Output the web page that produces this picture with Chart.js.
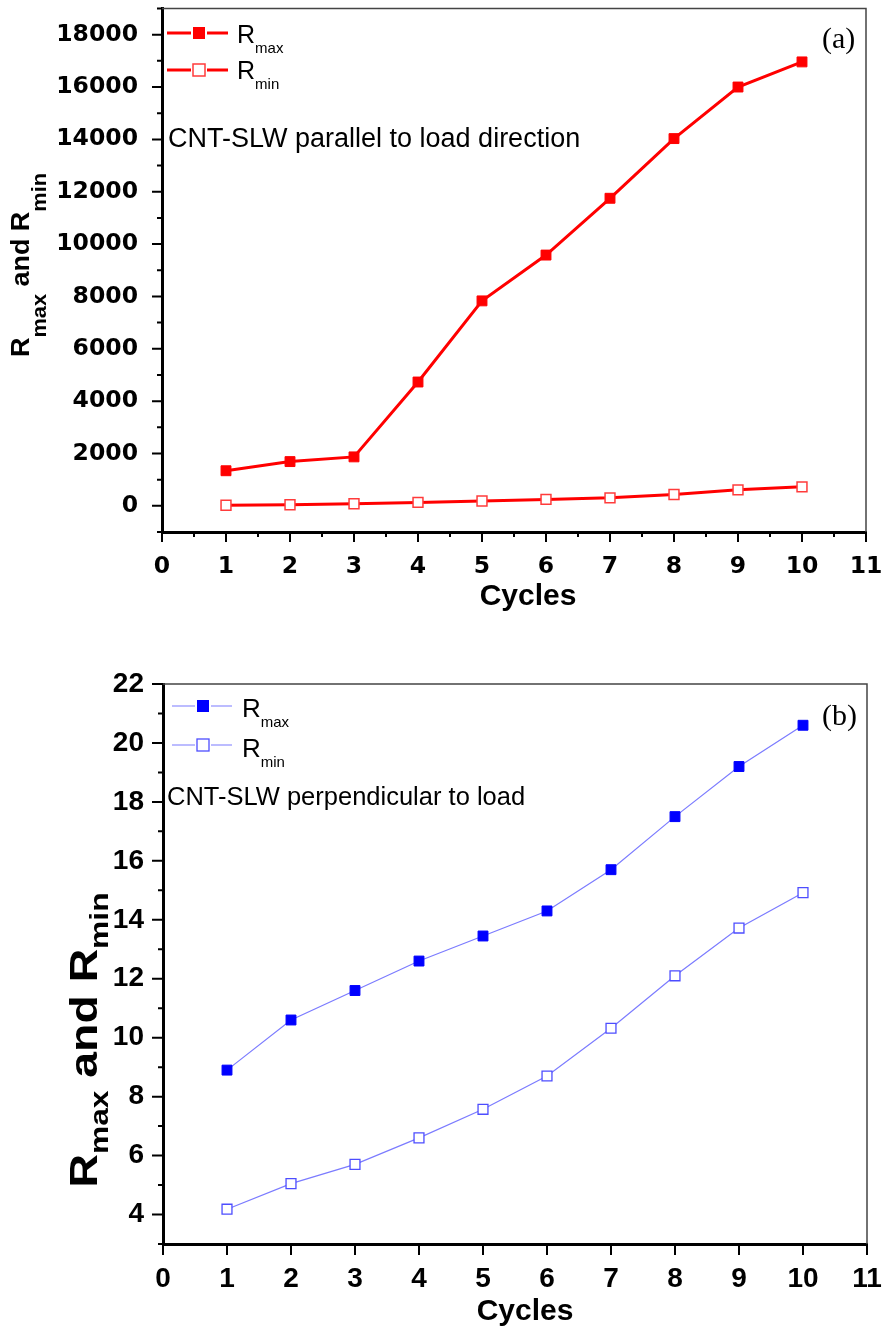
<!DOCTYPE html>
<html>
<head>
<meta charset="utf-8">
<script src="https://cdn.jsdelivr.net/npm/chart.js@4.4.1/dist/chart.umd.min.js"></script>
<style>
  body { margin: 0; background: #fff; }
  .panel { position: absolute; left: 0; }
</style>
</head>
<body>
<div class="panel" style="top:0"><canvas id="chartA" width="885" height="640"></canvas></div>
<div class="panel" style="top:650px"><canvas id="chartB" width="885" height="681"></canvas></div>
<script>
// cycles on the x axis
const cycles = [1, 2, 3, 4, 5, 6, 7, 8, 9, 10];

// (a) CNT-SLW parallel to load direction
const parallelMax = [1340, 1690, 1870, 4730, 7830, 9580, 11750, 14030, 16000, 16960];
const parallelMin = [20, 40, 80, 130, 185, 245, 305, 430, 610, 725];

// (b) CNT-SLW perpendicular to load
const perpMax = [8.9, 10.6, 11.6, 12.6, 13.45, 14.3, 15.7, 17.5, 19.2, 20.6];
const perpMin = [4.18, 5.05, 5.7, 6.6, 7.57, 8.7, 10.32, 12.1, 13.72, 14.92];

const SANS = "'Liberation Sans', Arial, sans-serif";
const SERIF = "'Liberation Serif', 'Times New Roman', serif";

function pts(ys) {
  return cycles.map((c, i) => ({x: c, y: ys[i]}));
}

function richWidth(ctx, parts) {
  let w = 0;
  for (const p of parts) {
    ctx.font = p.font;
    w += ctx.measureText(p.text).width;
  }
  return w;
}

function drawRich(ctx, parts, x, y, opt) {
  ctx.save();
  ctx.translate(x, y);
  if (opt.rotate) ctx.rotate(-Math.PI / 2);
  const w = richWidth(ctx, parts);
  ctx.scale(opt.len ? opt.len / w : 1, 1);
  let cx = opt.align === 'center' ? -w / 2 : 0;
  ctx.textAlign = 'left';
  ctx.textBaseline = 'alphabetic';
  ctx.fillStyle = '#000';
  for (const p of parts) {
    ctx.font = p.font;
    ctx.fillText(p.text, cx, p.dy || 0);
    cx += ctx.measureText(p.text).width;
  }
  ctx.restore();
}

function rTitle(main, sub, dy) {
  return [
    {text: 'R', font: main}, {text: 'max', font: sub, dy},
    {text: ' and ', font: main},
    {text: 'R', font: main}, {text: 'min', font: sub, dy}
  ];
}

function isMult(v, step) {
  const r = v / step;
  return Math.abs(r - Math.round(r)) < 1e-6;
}

// frame, minor/major tick marks, legend and labels
const decor = {
  id: 'decor',
  afterDraw(chart, args, o) {
    const ctx = chart.ctx;
    const a = chart.chartArea;
    const xs = chart.scales.x, ys = chart.scales.y;
    ctx.save();

    ctx.strokeStyle = '#444';
    ctx.lineWidth = 1.5;
    ctx.beginPath();
    ctx.moveTo(a.left, a.top);
    ctx.lineTo(a.right, a.top);
    ctx.lineTo(a.right, a.bottom);
    ctx.stroke();

    ctx.strokeStyle = '#000';
    ctx.lineWidth = 2;
    ctx.beginPath();
    const xStep = o.xMinor || o.xMajor;
    for (let v = xs.min; v <= xs.max + 1e-9; v += xStep) {
      const px = xs.getPixelForValue(v);
      const len = isMult(v, o.xMajor) ? o.majorLen : o.minorLen;
      ctx.moveTo(px, a.bottom);
      ctx.lineTo(px, a.bottom + len);
    }
    for (let v = ys.min; v <= ys.max + 1e-9; v += o.yMinor) {
      const py = ys.getPixelForValue(v);
      const len = isMult(v, o.yMajor) ? o.majorLen : o.minorLen;
      ctx.moveTo(a.left, py);
      ctx.lineTo(a.left - len, py);
    }
    ctx.stroke();

    // legend
    const lg = o.legend;
    lg.rows.forEach((row, i) => {
      const ds = chart.data.datasets[i];
      const s = lg.size;
      ctx.strokeStyle = ds.borderColor;
      ctx.lineWidth = ds.borderWidth;
      ctx.beginPath();
      ctx.moveTo(lg.x1, row.y);
      ctx.lineTo(lg.mx - s / 2 - 2, row.y);
      ctx.moveTo(lg.mx + s / 2 + 2, row.y);
      ctx.lineTo(lg.x2, row.y);
      ctx.stroke();
      if (row.open) {
        ctx.fillStyle = '#fff';
        ctx.fillRect(lg.mx - s / 2, row.y - s / 2, s, s);
        ctx.strokeStyle = ds.pointBorderColor;
        ctx.lineWidth = ds.pointBorderWidth;
        ctx.strokeRect(lg.mx - s / 2, row.y - s / 2, s, s);
      } else {
        ctx.fillStyle = ds.pointBackgroundColor;
        ctx.fillRect(lg.mx - s / 2, row.y - s / 2, s, s);
      }
      drawRich(ctx, [
        {text: 'R', font: lg.font},
        {text: row.sub, font: lg.subFont, dy: lg.subDy}
      ], lg.tx, row.base, {});
    });

    o.texts.forEach(t => drawRich(ctx, t.parts, t.x, t.y, t));
    ctx.restore();
  }
};

function axes(c) {
  const zeroPad = s => { s.paddingLeft = s.paddingRight = s.paddingTop = s.paddingBottom = 0; };
  return {
    x: {
      type: 'linear', min: 0, max: 11,
      grid: {display: false, drawTicks: false},
      border: {display: true, color: '#000', width: 3},
      ticks: {
        stepSize: 1, autoSkip: false, maxRotation: 0, color: '#000',
        padding: c.xPad, font: c.tickFont,
        callback: v => String(v)
      },
      afterFit: s => { s.height = c.xHeight; zeroPad(s); }
    },
    y: {
      type: 'linear', min: c.yMin, max: c.yMax,
      grid: {display: false, drawTicks: false},
      border: {display: true, color: '#000', width: 3},
      ticks: {
        stepSize: c.yMinor, autoSkip: false, color: '#000',
        padding: c.yPad, font: c.tickFont,
        callback: v => (isMult(v, c.yMajor) ? String(v) : '')
      },
      afterFit: s => { s.width = c.yWidth; zeroPad(s); }
    }
  };
}

new Chart(document.getElementById('chartA').getContext('2d'), {
  type: 'line',
  data: {
    datasets: [{
      label: 'Rmax',
      data: pts(parallelMax),
      borderColor: '#ff0000', borderWidth: 3,
      pointStyle: 'rect', pointRadius: 7, pointBorderWidth: 1,
      pointBackgroundColor: '#ff0000', pointBorderColor: '#ff0000'
    }, {
      label: 'Rmin',
      data: pts(parallelMin),
      borderColor: '#ff0000', borderWidth: 3,
      pointStyle: 'rect', pointRadius: 7, pointBorderWidth: 1.5,
      pointBackgroundColor: '#ffffff', pointBorderColor: '#ff3b3b'
    }]
  },
  options: {
    responsive: false, animation: false, devicePixelRatio: 1,
    layout: {padding: {top: 7, right: 19, left: 0, bottom: 0}},
    scales: axes({
      yMin: -1000, yMax: 19000, yMajor: 2000, yMinor: 1000,
      yWidth: 162, xHeight: 108, xPad: 21, yPad: 24,
      tickFont: {family: 'DejaVu Sans', weight: 'bold', size: 23.5}
    }),
    plugins: {
      legend: {display: false},
      tooltip: {enabled: false},
      decor: {
        xMajor: 1, xMinor: 0.5, yMajor: 2000, yMinor: 1000,
        majorLen: 10, minorLen: 5,
        legend: {
          x1: 167, x2: 228, mx: 199, size: 12, tx: 237,
          font: '25px ' + SANS, subFont: '15px ' + SANS, subDy: 10,
          rows: [{y: 33, base: 43, sub: 'max'}, {y: 70, base: 79, sub: 'min', open: true}]
        },
        texts: [
          {parts: [{text: 'CNT-SLW parallel to load direction', font: '27px ' + SANS}], x: 168, y: 147},
          {parts: [{text: '(a)', font: '30px ' + SERIF}], x: 822, y: 48},
          {parts: [{text: 'Cycles', font: 'bold 30px ' + SANS}], x: 528, y: 605, align: 'center'},
          {parts: rTitle('bold 26px ' + SANS, 'bold 21px ' + SANS, 17), x: 29, y: 265,
            rotate: true, align: 'center', len: 184}
        ]
      }
    }
  },
  plugins: [decor]
});

new Chart(document.getElementById('chartB').getContext('2d'), {
  type: 'line',
  data: {
    datasets: [{
      label: 'Rmax',
      data: pts(perpMax),
      borderColor: '#7b7bff', borderWidth: 1.2,
      pointStyle: 'rect', pointRadius: 7, pointBorderWidth: 1,
      pointBackgroundColor: '#0000ff', pointBorderColor: '#0000ff'
    }, {
      label: 'Rmin',
      data: pts(perpMin),
      borderColor: '#7b7bff', borderWidth: 1.2,
      pointStyle: 'rect', pointRadius: 7, pointBorderWidth: 1.3,
      pointBackgroundColor: '#ffffff', pointBorderColor: '#4d4dff'
    }]
  },
  options: {
    responsive: false, animation: false, devicePixelRatio: 1,
    layout: {padding: {top: 34, right: 18, left: 0, bottom: 0}},
    scales: axes({
      yMin: 3, yMax: 22, yMajor: 2, yMinor: 1,
      yWidth: 163, xHeight: 87, xPad: 18, yPad: 19,
      tickFont: {family: 'Liberation Sans', weight: 'bold', size: 28}
    }),
    plugins: {
      legend: {display: false},
      tooltip: {enabled: false},
      decor: {
        xMajor: 1, xMinor: null, yMajor: 2, yMinor: 1,
        majorLen: 11, minorLen: 5,
        legend: {
          x1: 172, x2: 232, mx: 203, size: 12, tx: 242,
          font: '26px ' + SANS, subFont: '15px ' + SANS, subDy: 10,
          rows: [{y: 56, base: 67, sub: 'max'}, {y: 95, base: 107, sub: 'min', open: true}]
        },
        texts: [
          {parts: [{text: 'CNT-SLW perpendicular to load', font: '25.5px ' + SANS}], x: 167, y: 155},
          {parts: [{text: '(b)', font: '30px ' + SERIF}], x: 822, y: 75},
          {parts: [{text: 'Cycles', font: 'bold 30px ' + SANS}], x: 525, y: 670, align: 'center'},
          {parts: rTitle('bold 38px ' + SANS, 'bold 26px ' + SANS, 11), x: 97, y: 390,
            rotate: true, align: 'center', len: 295}
        ]
      }
    }
  },
  plugins: [decor]
});
</script>
</body>
</html>
